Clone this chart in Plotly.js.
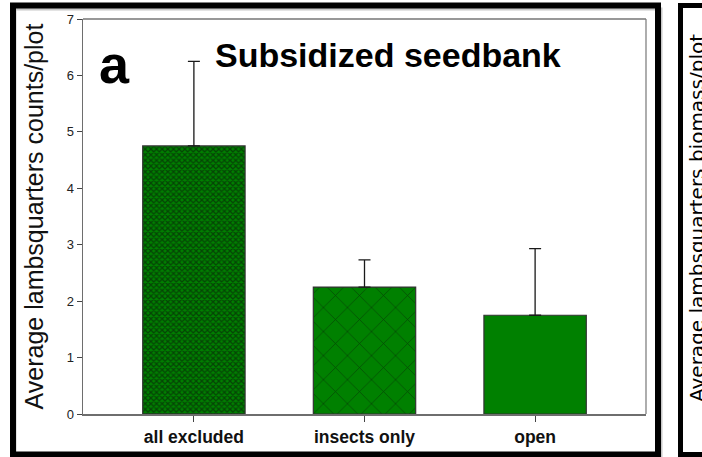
<!DOCTYPE html>
<html>
<head>
<meta charset="utf-8">
<script src="https://cdn.plot.ly/plotly-3.0.1.min.js"></script>
<style>
html,body{margin:0;padding:0;background:#fff;}
#chart{width:702px;height:457px;}
</style>
</head>
<body>
<div id="chart"></div>
<script>
const categories = ["all excluded", "insects only", "open"];
const means = [4.75, 2.25, 1.75];
const errorsUp = [1.5, 0.48, 1.18];
const errorsDown = [0, 0, 0];
const patternShapes = ["x", "x", ""];
const patternSizes = [4, 17, 8];
const patternSolidity = [0.55, 0.08, 0.3];
const yTicks = [0, 1, 2, 3, 4, 5, 6, 7];
const panelTitle = "Subsidized seedbank";
const panelLetter = "a";
const yTitle = "Average lambsquarters counts/plot";
const neighbourTitle = "Average lambsquarters biomass/plot";

const W = 702, H = 457;
const M = {l: 83, r: 56, t: 19, b: 43};
const pw = W - M.l - M.r, ph = H - M.t - M.b;
const px = x => (x - M.l) / pw;
const py = y => (H - M.b - y) / ph;

const trace = {
  type: "bar",
  x: categories,
  y: means,
  width: 0.6,
  marker: {
    color: "#008000",
    line: {color: "#333333", width: 1.2},
    pattern: {
      shape: patternShapes,
      size: patternSizes,
      solidity: patternSolidity,
      fgcolor: "#0a0a0a",
      bgcolor: "#008000",
      fillmode: "overlay"
    }
  },
  error_y: {
    type: "data",
    symmetric: false,
    array: errorsUp,
    arrayminus: errorsDown,
    color: "#1a1a1a",
    thickness: 1.3,
    width: 6
  },
  hoverinfo: "skip"
};

const layout = {
  width: W, height: H,
  margin: M,
  paper_bgcolor: "#ffffff",
  plot_bgcolor: "#ffffff",
  showlegend: false,
  font: {family: "Liberation Sans, Arial, sans-serif", color: "#111"},
  xaxis: {
    type: "category",
    range: [-0.65, 2.65],
    showline: true, linecolor: "#6e6e6e", linewidth: 1.5,
    mirror: false,
    ticks: "outside", ticklen: 6, tickcolor: "#444", tickwidth: 1,
    tickfont: {size: 17.5, family: "Liberation Sans, Arial, sans-serif", color: "#111", weight: "bold"},
    showgrid: false, zeroline: false, fixedrange: true
  },
  yaxis: {
    range: [0, 7],
    tickvals: yTicks,
    ticktext: yTicks.map(String),
    showline: true, linecolor: "#6e6e6e", linewidth: 1.5,
    ticks: "outside", ticklen: 5, tickcolor: "#444", tickwidth: 1,
    tickfont: {size: 13, color: "#222"},
    showgrid: false, zeroline: false, fixedrange: true,
    title: {text: yTitle, font: {size: 25, color: "#111"}, standoff: 16}
  },
  shapes: [
    {type: "line", xref: "paper", yref: "paper", x0: 0, x1: 1, y0: 1, y1: 1, line: {color: "#333", width: 1.2}},
    {type: "line", xref: "paper", yref: "paper", x0: 1, x1: 1, y0: 0, y1: 1, line: {color: "#777", width: 1.2}},
    {type: "rect", xref: "paper", yref: "paper", x0: px(15), x1: px(661), y0: py(457), y1: py(9), line: {color: "#c8c8c8", width: 3}},
    {type: "rect", xref: "paper", yref: "paper", x0: px(13), x1: px(658), y0: py(454.5), y1: py(5.5), line: {color: "#000", width: 6}},
    {type: "rect", xref: "paper", yref: "paper", x0: px(680.5), x1: px(720), y0: py(454.5), y1: py(5.5), line: {color: "#000", width: 5}}
  ],
  annotations: [
    {text: panelLetter, xref: "paper", yref: "paper", x: px(114), y: py(64), xanchor: "center", yanchor: "middle",
     showarrow: false, font: {size: 54, weight: "bold", color: "#000", family: "Liberation Sans, Arial, sans-serif"}},
    {text: panelTitle, xref: "paper", yref: "paper", x: px(388), y: py(55), xanchor: "center", yanchor: "middle",
     showarrow: false, font: {size: 34, weight: "bold", color: "#000", family: "Liberation Sans, Arial, sans-serif"}},
    {text: neighbourTitle, xref: "paper", yref: "paper", x: px(697), y: py(218), xanchor: "center", yanchor: "middle",
     textangle: -90, showarrow: false, font: {size: 20, color: "#000", family: "DejaVu Sans, Verdana, sans-serif"}}
  ]
};

Plotly.newPlot("chart", [trace], layout, {displayModeBar: false, staticPlot: true});
</script>
</body>
</html>
